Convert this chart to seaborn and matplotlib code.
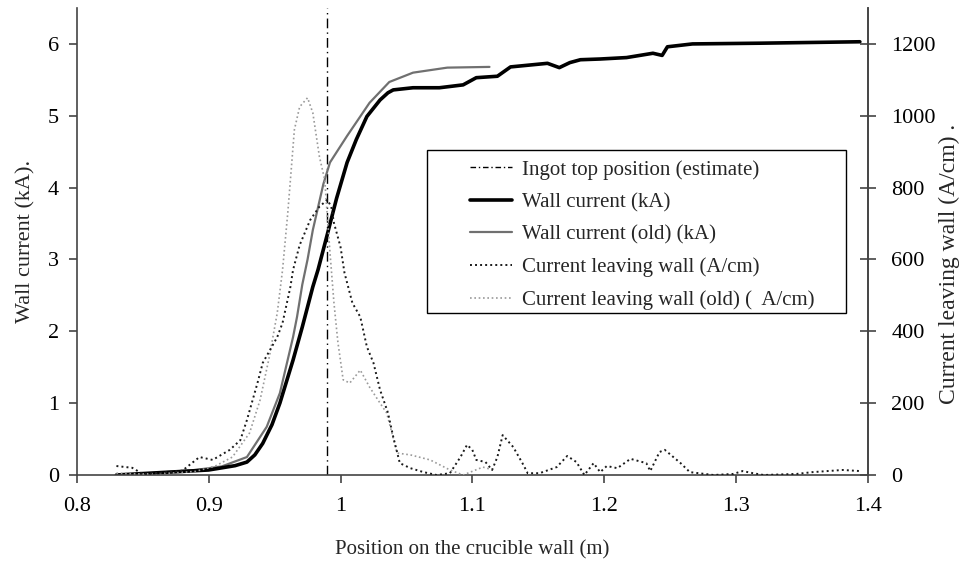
import matplotlib
matplotlib.use("Agg")
import matplotlib.pyplot as plt
from matplotlib.patches import Rectangle
from matplotlib.lines import Line2D
import seaborn as sns

# wall current (kA), new measurement
wall_x = [0.830, 0.850, 0.870, 0.890, 0.900, 0.910, 0.920, 0.929, 0.935, 0.941,
          0.948, 0.954, 0.959, 0.964, 0.971, 0.979, 0.983, 0.990, 0.997, 1.005,
          1.012, 1.020, 1.030, 1.036, 1.040, 1.055, 1.075, 1.093, 1.103, 1.119,
          1.129, 1.157, 1.166, 1.174, 1.182, 1.197, 1.217, 1.237, 1.244, 1.248,
          1.267, 1.318, 1.394]
wall_y = [0.00, 0.02, 0.04, 0.06, 0.07, 0.10, 0.13, 0.18, 0.28, 0.44,
          0.70, 1.00, 1.30, 1.60, 2.06, 2.62, 2.86, 3.35, 3.85, 4.35,
          4.67, 4.99, 5.22, 5.32, 5.36, 5.39, 5.39, 5.43, 5.53, 5.55,
          5.68, 5.73, 5.67, 5.74, 5.78, 5.79, 5.81, 5.87, 5.84, 5.96,
          6.00, 6.01, 6.03]

# wall current (kA), old measurement
old_x = [0.830, 0.860, 0.890, 0.910, 0.929, 0.944, 0.954, 0.964, 0.967, 0.971,
         0.975, 0.979, 0.987, 0.992, 1.005, 1.022, 1.037, 1.055, 1.081, 1.113]
old_y = [0.00, 0.03, 0.07, 0.12, 0.25, 0.67, 1.14, 1.92, 2.20, 2.65,
         3.00, 3.41, 4.05, 4.35, 4.72, 5.18, 5.47, 5.60, 5.67, 5.68]

# current leaving wall (A/cm), new
leave_x = [0.830, 0.842, 0.850, 0.860, 0.870, 0.880, 0.893, 0.903, 0.916, 0.924,
           0.929, 0.937, 0.941, 0.952, 0.956, 0.962, 0.964, 0.969, 0.977, 0.984,
           0.990, 0.993, 0.995, 1.000, 1.003, 1.009, 1.015, 1.020, 1.025, 1.030,
           1.036, 1.040, 1.045, 1.053, 1.063, 1.073, 1.083, 1.091, 1.096, 1.100,
           1.103, 1.110, 1.115, 1.119, 1.123, 1.131, 1.138, 1.142, 1.151, 1.164,
           1.172, 1.179, 1.185, 1.192, 1.197, 1.202, 1.210, 1.220, 1.232, 1.235,
           1.242, 1.246, 1.258, 1.265, 1.283, 1.298, 1.305, 1.313, 1.321, 1.346,
           1.358, 1.381, 1.394]
leave_y = [25, 20, 3, 5, 8, 12, 50, 42, 70, 97,
           153, 256, 312, 384, 423, 524, 571, 640, 710, 747,
           766, 747, 702, 635, 563, 479, 440, 357, 312, 237,
           173, 106, 33, 19, 8, 0, 5, 50, 84, 70,
           42, 36, 14, 50, 111, 78, 33, 5, 5, 22,
           53, 36, 0, 33, 8, 25, 19, 45, 33, 11,
           64, 70, 33, 8, 0, 3, 11, 5, 0, 3,
           8, 14, 11]

# current leaving wall (A/cm), old
oldleave_x = [0.830, 0.850, 0.870, 0.890, 0.905, 0.918, 0.931, 0.939, 0.946, 0.952,
              0.956, 0.960, 0.962, 0.965, 0.969, 0.975, 0.979, 0.984, 0.988, 0.992,
              0.995, 0.998, 1.002, 1.007, 1.015, 1.022, 1.030, 1.035, 1.043, 1.053,
              1.068, 1.083, 1.093, 1.108, 1.116]
oldleave_y = [5, 3, 5, 10, 25, 50, 117, 209, 329, 451,
              570, 730, 822, 961, 1025, 1050, 1008, 886, 822, 620,
              480, 370, 265, 256, 292, 245, 200, 173, 61, 56,
              42, 14, 0, 22, 14]

ingot_top = 0.99

labels = ["Ingot top position (estimate)", "Wall current (kA)", "Wall current (old) (kA)",
          "Current leaving wall (A/cm)", "Current leaving wall (old) (  A/cm)"]

sns.set_style("ticks")
plt.rcParams['font.family'] = ['Liberation Serif', 'DejaVu Serif']
plt.rcParams['font.size'] = 16

fig = plt.figure(figsize=(9.61, 5.63), dpi=100)
ax = fig.add_axes([0.080, 0.1563, 0.823, 0.8295])
ax2 = ax.twinx()

axis_col = "#444444"
dot_black = (0, (1, 1.6))
dot_gray = (0, (1, 1.6))

ax.axvline(ingot_top, color="black", lw=1.0, ls=(0, (7, 3, 1, 3)))
sns.lineplot(x=old_x, y=old_y, ax=ax, color="#707070", lw=1.6, sort=False)
sns.lineplot(x=wall_x, y=wall_y, ax=ax, color="black", lw=2.6, sort=False)
sns.lineplot(x=oldleave_x, y=oldleave_y, ax=ax2, color="#9a9a9a", lw=1.2, ls=dot_gray, sort=False)
sns.lineplot(x=leave_x, y=leave_y, ax=ax2, color="#1a1a1a", lw=1.4, ls=dot_black, sort=False)

ax.set_xlim(0.8, 1.4)
ax.set_ylim(0, 6.5)
ax2.set_ylim(0, 1300)
ax.set_xticks([0.8, 0.9, 1.0, 1.1, 1.2, 1.3, 1.4])
ax.set_xticklabels(["0.8", "0.9", "1", "1.1", "1.2", "1.3", "1.4"])
ax.set_yticks(range(0, 7))
ax2.set_yticks(range(0, 1201, 200))

ax.set_xlabel("Position on the crucible wall (m)", labelpad=17, fontsize=15)
ax.set_ylabel("Wall current (kA).", labelpad=9)
ax2.set_ylabel("Current leaving wall (A/cm) .", rotation=90, ha="center", va="center",
               fontsize=17)
ax2.yaxis.set_label_coords(1.1035, (475 - 264) / 467)

for a in (ax, ax2):
    a.spines["top"].set_visible(False)
    for s in a.spines.values():
        s.set_color(axis_col)
        s.set_linewidth(1.2)
ax2.spines["left"].set_visible(False)
ax2.spines["bottom"].set_visible(False)
ax.tick_params(axis="both", colors=axis_col, labelcolor="black", length=6, width=1.2, pad=7)
ax.tick_params(axis="x", pad=10)
ax2.tick_params(axis="y", direction="inout", length=12, width=1.2, colors=axis_col,
                labelcolor="black", pad=11)

# legend box
box = Rectangle((0.4425, 0.347), 0.5305, 0.349, transform=ax2.transAxes,
                facecolor="white", edgecolor="black", lw=1.0, zorder=5)
ax2.add_patch(box)
handles = [
    Line2D([], [], color="black", lw=1.0, ls=(0, (4, 2, 1, 2))),
    Line2D([], [], color="black", lw=2.6),
    Line2D([], [], color="#707070", lw=1.6),
    Line2D([], [], color="#1a1a1a", lw=1.4, ls=dot_black),
    Line2D([], [], color="#9a9a9a", lw=1.2, ls=dot_gray),
]
leg = ax2.legend(handles, labels, loc="upper left", bbox_to_anchor=(0.484, 0.697),
                 frameon=False, borderpad=0, handlelength=2.0, handletextpad=0.5,
                 labelspacing=0.62, fontsize=15)
leg.set_zorder(6)

fig.savefig("out.png", dpi=100)
